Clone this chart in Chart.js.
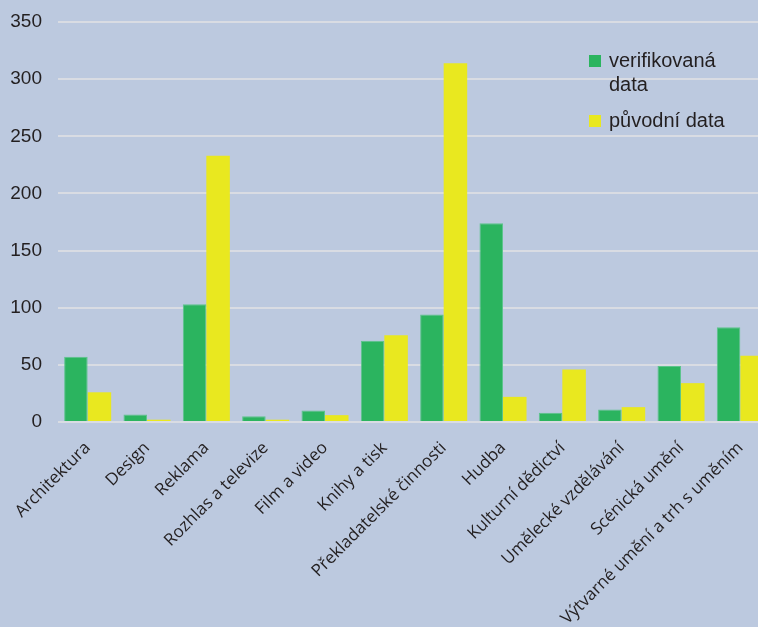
<!DOCTYPE html>
<html>
<head>
<meta charset="utf-8">
<script src="https://cdn.jsdelivr.net/npm/chart.js@4"></script>
<style>
  html, body { margin: 0; padding: 0; background: #bcc9df; overflow: hidden; }
  #wrap { width: 770px; height: 627px; }
</style>
</head>
<body>
<div id="wrap"><canvas id="graf"></canvas></div>
<script>
const kategorie = [
  "Architektura", "Design", "Reklama", "Rozhlas a televize", "Film a video",
  "Knihy a tisk", "Překladatelské činnosti", "Hudba", "Kulturní dědictví",
  "Umělecké vzdělávání", "Scénická umění", "Výtvarné umění a trh s uměním"
];
const verifikovana = [57, 6.5, 103, 5, 10, 71, 94, 174, 8, 11, 49, 83];
const puvodni = [26, 2, 233, 2, 6, 76, 314, 22, 46, 13, 34, 58];
const yTicks = [0, 50, 100, 150, 200, 250, 300, 350];

const ZELENA = "#2bb45f";
const ZLUTA = "#e9e81f";

// legenda uvnitř grafu (vlastní plugin kvůli dvouřádkovému popisku)
const legendaPlugin = {
  id: "legenda",
  afterDraw(chart) {
    const ctx = chart.ctx;
    const polozky = [
      { barva: ZELENA, radky: ["verifikovaná", "data"], y: 55 },
      { barva: ZLUTA, radky: ["původní data"], y: 115 },
    ];
    ctx.save();
    ctx.font = "20px 'Liberation Sans', Arial, sans-serif";
    ctx.textBaseline = "alphabetic";
    polozky.forEach((p) => {
      ctx.fillStyle = p.barva;
      ctx.fillRect(589, p.y, 12, 12);
      ctx.fillStyle = "#231f20";
      p.radky.forEach((r, i) => {
        ctx.fillText(r, 609, p.y + 12 + i * 24);
      });
    });
    ctx.restore();
  },
};

new Chart(document.getElementById("graf"), {
  type: "bar",
  data: {
    labels: kategorie,
    datasets: [
      {
        label: "verifikovaná data",
        data: verifikovana,
        backgroundColor: ZELENA,
        borderColor: "#5cc48c",
        borderWidth: 1,
      },
      {
        label: "původní data",
        data: puvodni,
        backgroundColor: ZLUTA,
        borderColor: ZLUTA,
        borderWidth: 0,
      },
    ],
  },
  options: {
    responsive: true,
    maintainAspectRatio: false,
    animation: false,
    layout: { padding: { top: 22, right: 0, left: 0, bottom: 0 } },
    plugins: {
      legend: { display: false },
      tooltip: { enabled: false },
    },
    datasets: {
      bar: { categoryPercentage: 0.793, barPercentage: 1.0 },
    },
    scales: {
      x: {
        grid: { display: false },
        border: { display: false },
        ticks: {
          color: "#231f20",
          font: { family: "'Open Sans', sans-serif", size: 17 },
          maxRotation: 45,
          minRotation: 45,
          autoSkip: false,
          padding: 8,
        },
        afterFit(scale) {
          scale.height = 205;
        },
      },
      y: {
        min: 0,
        max: 350,
        afterBuildTicks(scale) {
          scale.ticks = yTicks.map((v) => ({ value: v }));
        },
        grid: {
          color: "#d9dce3",
          lineWidth: 2,
          drawTicks: true,
          tickLength: 12,
          tickColor: "rgba(0,0,0,0)",
        },
        border: { display: false },
        ticks: {
          color: "#231f20",
          font: { family: "'Liberation Sans', Arial, sans-serif", size: 19 },
          padding: 4,
        },
        afterFit(scale) {
          scale.width = 58;
        },
      },
    },
  },
  plugins: [legendaPlugin],
});
</script>
</body>
</html>
